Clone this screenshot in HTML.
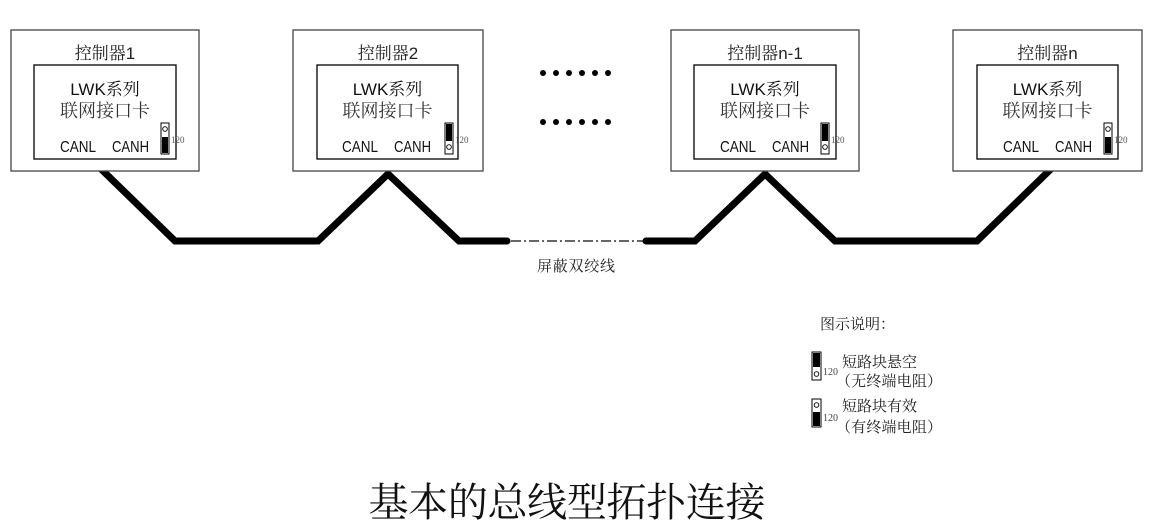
<!DOCTYPE html>
<html>
<head>
<meta charset="utf-8">
<style>
html,body{margin:0;padding:0;background:#fff;}
svg{display:block;}
.cjk{font-family:"Liberation Serif","Noto Serif CJK SC",serif;}
.sans{font-family:"Liberation Sans","Noto Sans CJK SC",sans-serif;}
</style>
</head>
<body>
<svg width="1165" height="522" viewBox="0 0 1165 522" xmlns="http://www.w3.org/2000/svg">
  <rect x="0" y="0" width="1165" height="522" fill="#fff"/>

  <!-- bus line (drawn first, boxes cover ends) -->
  <polyline points="98,166 175,241 318,241 388,174 459,241 507,241" fill="none" stroke="#000" stroke-width="7" stroke-linejoin="miter" stroke-linecap="round"/>
  <line x1="511" y1="241" x2="643" y2="241" stroke="#333" stroke-width="1.4" stroke-dasharray="10 3 2 3"/>
  <polyline points="646,241 695,241 765,174 835,241 977,241 1054,166" fill="none" stroke="#000" stroke-width="7" stroke-linejoin="miter" stroke-linecap="round"/>
  <text x="576" y="271" font-size="15" text-anchor="middle" class="cjk" fill="#222" textLength="78">屏蔽双绞线</text>

  <!-- dots -->
  <g fill="#000">
    <circle cx="543" cy="73" r="3"/><circle cx="556" cy="73" r="3"/><circle cx="569" cy="73" r="3"/>
    <circle cx="582" cy="73" r="3"/><circle cx="595" cy="73" r="3"/><circle cx="608" cy="73" r="3"/>
    <circle cx="543" cy="122" r="3"/><circle cx="556" cy="122" r="3"/><circle cx="569" cy="122" r="3"/>
    <circle cx="582" cy="122" r="3"/><circle cx="595" cy="122" r="3"/><circle cx="608" cy="122" r="3"/>
  </g>

  <!-- Box 1 -->
  <rect x="11" y="30" width="188" height="141" fill="#fff" stroke="#444" stroke-width="1.3"/>
  <text x="105" y="59" font-size="17" text-anchor="middle" class="cjk" fill="#222">控制器<tspan class="sans">1</tspan></text>
  <rect x="34" y="65" width="142" height="94" fill="#fff" stroke="#000" stroke-width="1.3"/>
  <text x="105" y="95" font-size="17" text-anchor="middle" fill="#111"><tspan class="sans">LWK</tspan><tspan class="cjk">系列</tspan></text>
  <text x="105" y="117" font-size="18" text-anchor="middle" class="cjk" fill="#333">联网接口卡</text>
  <text x="60" y="152" font-size="16" class="sans" fill="#111" textLength="36" lengthAdjust="spacingAndGlyphs">CANL</text>
  <text x="112" y="152" font-size="16" class="sans" fill="#111" textLength="37" lengthAdjust="spacingAndGlyphs">CANH</text>
  <rect x="161" y="123" width="8" height="31" fill="#fff" stroke="#000" stroke-width="1"/>
  <circle cx="165" cy="129" r="2.3" fill="none" stroke="#000" stroke-width="0.9"/>
  <rect x="162" y="137" width="6" height="16" fill="#000"/>
  <text x="171" y="143" font-size="9" class="cjk" fill="#555">120</text>

  <!-- Box 2 -->
  <rect x="293" y="30" width="190" height="141" fill="#fff" stroke="#444" stroke-width="1.3"/>
  <text x="388" y="59" font-size="17" text-anchor="middle" class="cjk" fill="#222">控制器<tspan class="sans">2</tspan></text>
  <rect x="317" y="65" width="141" height="94" fill="#fff" stroke="#000" stroke-width="1.3"/>
  <text x="387.5" y="95" font-size="17" text-anchor="middle" fill="#111"><tspan class="sans">LWK</tspan><tspan class="cjk">系列</tspan></text>
  <text x="387.5" y="117" font-size="18" text-anchor="middle" class="cjk" fill="#333">联网接口卡</text>
  <text x="342" y="152" font-size="16" class="sans" fill="#111" textLength="36" lengthAdjust="spacingAndGlyphs">CANL</text>
  <text x="394" y="152" font-size="16" class="sans" fill="#111" textLength="37" lengthAdjust="spacingAndGlyphs">CANH</text>
  <rect x="445" y="123" width="8" height="31" fill="#fff" stroke="#000" stroke-width="1"/>
  <rect x="446" y="124" width="6" height="17" fill="#000"/>
  <circle cx="449" cy="147" r="2.3" fill="none" stroke="#000" stroke-width="0.9"/>
  <text x="455" y="143" font-size="9" class="cjk" fill="#555">120</text>

  <!-- Box n-1 -->
  <rect x="671" y="30" width="188" height="141" fill="#fff" stroke="#444" stroke-width="1.3"/>
  <text x="765" y="59" font-size="17" text-anchor="middle" class="cjk" fill="#222">控制器<tspan class="sans">n-1</tspan></text>
  <rect x="694" y="65" width="142" height="94" fill="#fff" stroke="#000" stroke-width="1.3"/>
  <text x="765" y="95" font-size="17" text-anchor="middle" fill="#111"><tspan class="sans">LWK</tspan><tspan class="cjk">系列</tspan></text>
  <text x="765" y="117" font-size="18" text-anchor="middle" class="cjk" fill="#333">联网接口卡</text>
  <text x="720" y="152" font-size="16" class="sans" fill="#111" textLength="36" lengthAdjust="spacingAndGlyphs">CANL</text>
  <text x="772" y="152" font-size="16" class="sans" fill="#111" textLength="37" lengthAdjust="spacingAndGlyphs">CANH</text>
  <rect x="821" y="123" width="8" height="31" fill="#fff" stroke="#000" stroke-width="1"/>
  <rect x="822" y="124" width="6" height="17" fill="#000"/>
  <circle cx="825" cy="147" r="2.3" fill="none" stroke="#000" stroke-width="0.9"/>
  <text x="831" y="143" font-size="9" class="cjk" fill="#555">120</text>

  <!-- Box n -->
  <rect x="953" y="30" width="189" height="141" fill="#fff" stroke="#444" stroke-width="1.3"/>
  <text x="1047.5" y="59" font-size="17" text-anchor="middle" class="cjk" fill="#222">控制器<tspan class="sans">n</tspan></text>
  <rect x="977" y="65" width="141" height="94" fill="#fff" stroke="#000" stroke-width="1.3"/>
  <text x="1047.5" y="95" font-size="17" text-anchor="middle" fill="#111"><tspan class="sans">LWK</tspan><tspan class="cjk">系列</tspan></text>
  <text x="1047.5" y="117" font-size="18" text-anchor="middle" class="cjk" fill="#333">联网接口卡</text>
  <text x="1003" y="152" font-size="16" class="sans" fill="#111" textLength="36" lengthAdjust="spacingAndGlyphs">CANL</text>
  <text x="1055" y="152" font-size="16" class="sans" fill="#111" textLength="37" lengthAdjust="spacingAndGlyphs">CANH</text>
  <rect x="1104" y="123" width="8" height="31" fill="#fff" stroke="#000" stroke-width="1"/>
  <circle cx="1108" cy="129" r="2.3" fill="none" stroke="#000" stroke-width="0.9"/>
  <rect x="1105" y="137" width="6" height="16" fill="#000"/>
  <text x="1114" y="143" font-size="9" class="cjk" fill="#555">120</text>

  <!-- Legend -->
  <text x="820" y="329" font-size="15" class="cjk" fill="#222">图示说明：</text>

  <rect x="812" y="352" width="9" height="28" fill="#fff" stroke="#000" stroke-width="1"/>
  <rect x="813" y="353" width="7" height="14" fill="#000"/>
  <circle cx="816.5" cy="374" r="2.3" fill="none" stroke="#000" stroke-width="0.9"/>
  <text x="823" y="375" font-size="10" class="cjk" fill="#444">120</text>
  <text x="842" y="367" font-size="15" class="cjk" fill="#222">短路块悬空</text>
  <text x="836" y="386" font-size="15" class="cjk" fill="#222" textLength="106">（无终端电阻）</text>

  <rect x="812" y="399" width="9" height="28" fill="#fff" stroke="#000" stroke-width="1"/>
  <circle cx="816.5" cy="405" r="2.3" fill="none" stroke="#000" stroke-width="0.9"/>
  <rect x="813" y="412" width="7" height="14" fill="#000"/>
  <text x="823" y="421" font-size="10" class="cjk" fill="#444">120</text>
  <text x="842" y="411" font-size="15" class="cjk" fill="#222">短路块有效</text>
  <text x="836" y="432" font-size="15" class="cjk" fill="#222" textLength="106">（有终端电阻）</text>

  <!-- Bottom title -->
  <text x="567" y="516" font-size="40" text-anchor="middle" class="cjk" fill="#111" textLength="397">基本的总线型拓扑连接</text>
</svg>
</body>
</html>
